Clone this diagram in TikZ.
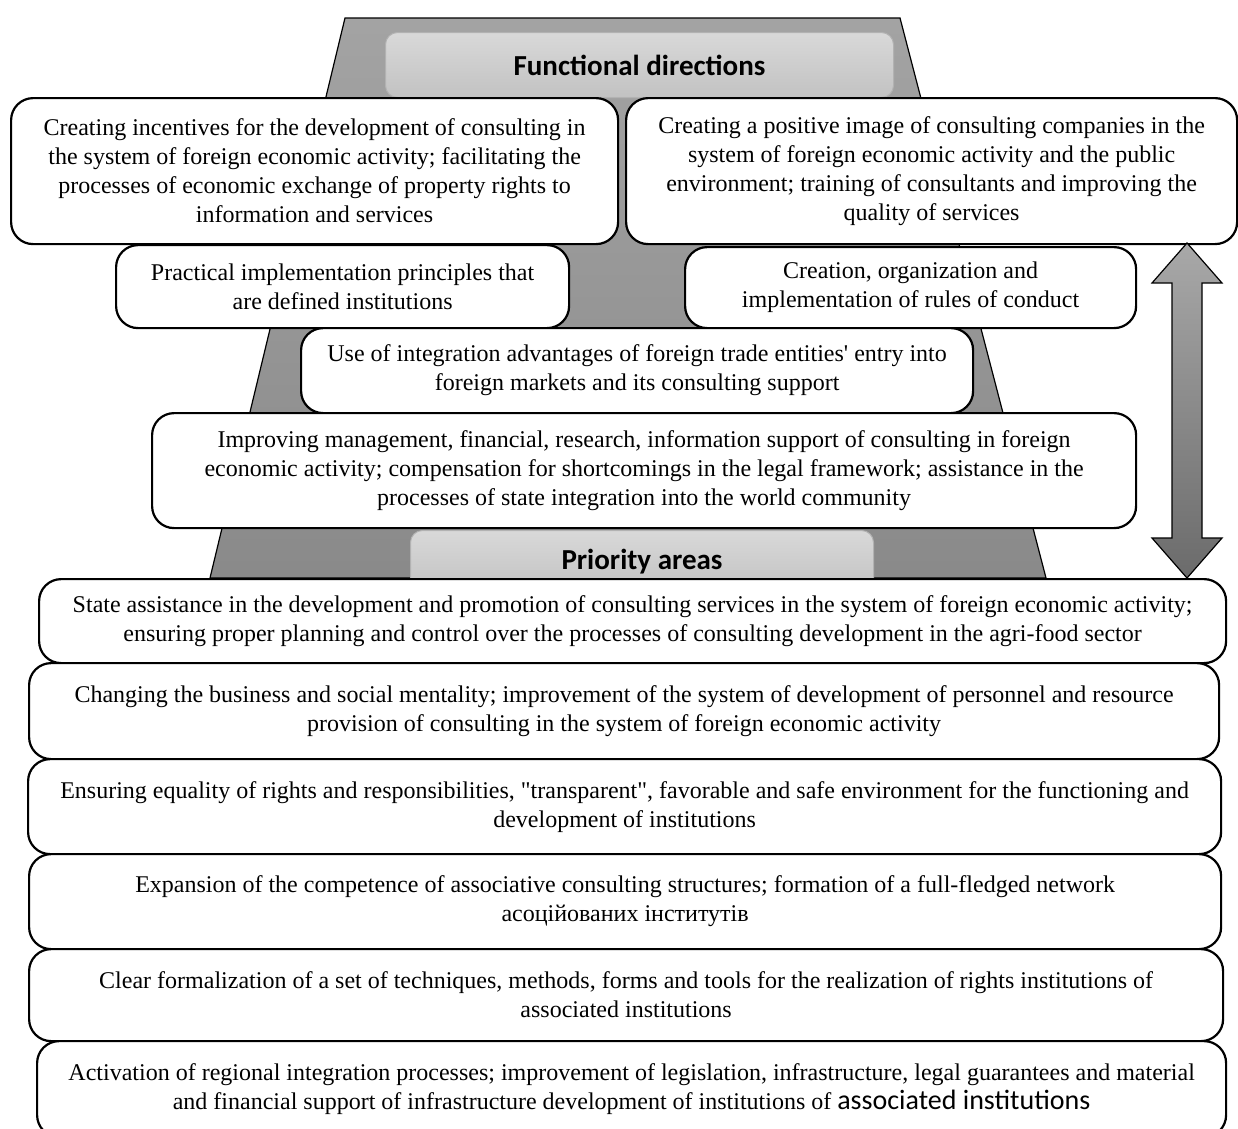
\documentclass[tikz,border=0pt]{standalone}
\usepackage{fontspec}
\setmainfont{Liberation Serif}[Ligatures=TeXOff]
\newfontfamily\headfont{Carlito}
\usetikzlibrary{calc,positioning}

\tikzset{
  txtbox/.style={draw, fill=white, line width=2.2pt, rounded corners=22pt, align=center,
    inner sep=0pt, anchor=north west, font=\fontsize{24}{29}\selectfont},
  headbox/.style={draw=black!30, line width=1pt, top color=black!15, bottom color=black!24,
    rounded corners=12pt, inner sep=0pt, anchor=north west,
    font=\headfont\bfseries\fontsize{29}{32}\selectfont},
  trap/.style={draw, line width=1.2pt, top color=black!36, bottom color=black!46},
  bigarrow/.style={draw, line width=1.2pt, top color=black!34, bottom color=black!58}
}

\begin{document}
\begin{tikzpicture}[x=1pt, y=-1pt]
        \useasboundingbox (0,0) rectangle (1238,1128);
        % background trapezoid
        \draw[trap] (345,18) -- (900,18) -- (1046,578) -- (210,578) -- cycle;
        \node[headbox, minimum width=508pt, minimum height=65pt] (fdir) at (385,32) {Functional directions};
        % functional directions
        \node[txtbox, minimum width=607pt, minimum height=146pt] (fl) at (10,97)
            {Creating incentives for the development of consulting in\\the system of foreign economic activity; facilitating the\\processes of economic exchange of property rights to\\information and services};
        \node[txtbox, minimum width=611pt, minimum height=146pt] (fr) at (625,97)
            {Creating a positive image of consulting companies in the\\system of foreign economic activity and the public\\environment; training of consultants and improving the\\quality of services};
        \node[txtbox, minimum width=453pt, minimum height=83pt] (pl) at (115,244)
            {Practical implementation principles that\\are defined institutions};
        \node[txtbox, minimum width=451pt, minimum height=81pt] (pr) at (684,246)
            {Creation, organization and\\implementation of rules of conduct};
        \node[txtbox, minimum width=672pt, minimum height=85pt] (ui) at (300,327)
            {Use of integration advantages of foreign trade entities' entry into\\foreign markets and its consulting support};
        \node[txtbox, minimum width=984pt, minimum height=115pt] (im) at (151,412)
            {Improving management, financial, research, information support of consulting in foreign\\economic activity; compensation for shortcomings in the legal framework; assistance in the\\processes of state integration into the world community};
        % priority areas
        \node[headbox, minimum width=463pt, minimum height=62pt] (prio) at (410,530) {Priority areas};
        \node[txtbox, minimum width=1187pt, minimum height=84pt] (b1) at (38,578)
            {State assistance in the development and promotion of consulting services in the system of foreign economic activity;\\ensuring proper planning and control over the processes of consulting development in the agri-food sector};
        \node[txtbox, minimum width=1190pt, minimum height=96pt] (b2) at (28,662)
            {Changing the business and social mentality; improvement of the system of development of personnel and resource\\provision of consulting in the system of foreign economic activity};
        \node[txtbox, minimum width=1193pt, minimum height=95pt] (b3) at (27,758)
            {Ensuring equality of rights and responsibilities, "transparent", favorable and safe environment for the functioning and\\development of institutions};
        \node[txtbox, minimum width=1192pt, minimum height=95pt] (b4) at (28,853)
            {Expansion of the competence of associative consulting structures; formation of a full-fledged network\\асоційованих інститутів};
        \node[txtbox, minimum width=1194pt, minimum height=92pt] (b5) at (28,948)
            {Clear formalization of a set of techniques, methods, forms and tools for the realization of rights institutions of\\associated institutions};
        \node[txtbox, minimum width=1189pt, minimum height=96pt] (b6) at (36,1040)
            {Activation of regional integration processes; improvement of legislation, infrastructure, legal guarantees and material\\and financial support of infrastructure development of institutions of {\headfont\fontsize{28}{29}\selectfont associated institutions}};
        % two-way arrow
        \coordinate (atop) at (1187,243);
        \coordinate (abot) at (1187,578);
        \draw[bigarrow] (atop) -- ($(atop)+(35,40)$) -- ($(atop)+(15,40)$) -- ($(abot)+(15,-40)$)
            -- ($(abot)+(35,-40)$) -- (abot) -- ($(abot)+(-35,-40)$) -- ($(abot)+(-15,-40)$)
            -- ($(atop)+(-15,40)$) -- ($(atop)+(-35,40)$) -- cycle;
    \end{tikzpicture}
\end{document}
